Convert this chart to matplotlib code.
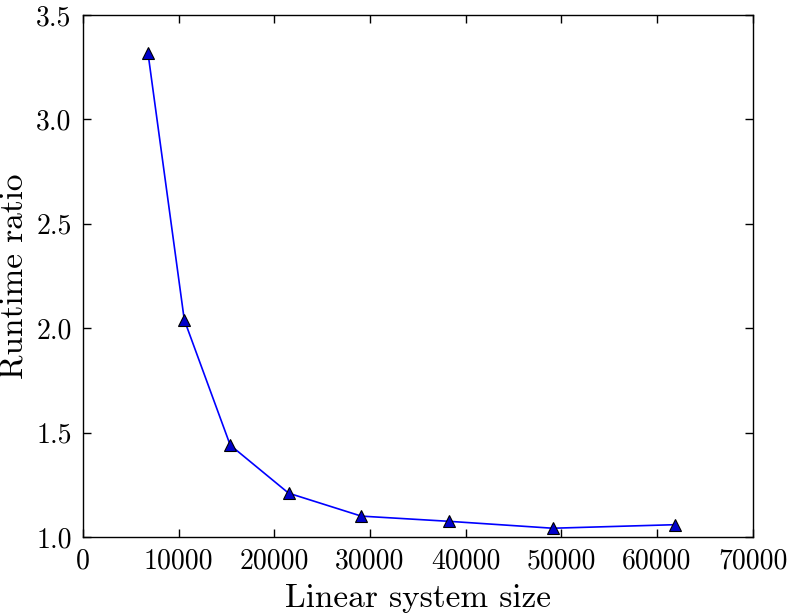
import numpy as np
import matplotlib
matplotlib.use('Agg')
import matplotlib.pyplot as plt

plt.rcParams['font.family'] = 'serif'
plt.rcParams['font.serif'] = ['cmr10']
plt.rcParams['mathtext.fontset'] = 'cm'
plt.rcParams['axes.formatter.use_mathtext'] = True

# Data
system_size = [6800, 10600, 15400, 21500, 29100, 38300, 49100, 61900]
runtime_ratio = [3.32, 2.04, 1.44, 1.21, 1.10, 1.075, 1.042, 1.059]

fig = plt.figure(figsize=(7.89, 6.14), dpi=100)
ax = fig.add_axes([0.105, 0.1254, 0.849, 0.8502])

ax.plot(system_size, runtime_ratio, '-^', color='#0000ff', linewidth=1.2,
        markersize=8, markerfacecolor='#0000cc', markeredgecolor='black',
        markeredgewidth=0.8)

ax.set_xlim(0, 70000)
ax.set_ylim(1.0, 3.5)
ax.set_xticks(np.arange(0, 70001, 10000))
ax.set_yticks(np.arange(1.0, 3.51, 0.5))
ax.set_xticklabels([f'{int(v)}' for v in np.arange(0, 70001, 10000)])
ax.set_yticklabels([f'{v:.1f}' for v in np.arange(1.0, 3.51, 0.5)])

ax.tick_params(direction='in', top=True, right=True, length=6, width=1,
               labelsize=20, pad=8)
for s in ax.spines.values():
    s.set_linewidth(1.0)

ax.set_xlabel('Linear system size', fontsize=24, va='baseline')
ax.xaxis.set_label_coords(0.5, -0.134)
ax.set_ylabel('Runtime ratio', fontsize=24, va='baseline')
ax.yaxis.set_label_coords(-0.09, 0.5)

fig.savefig('out.png', dpi=100)
